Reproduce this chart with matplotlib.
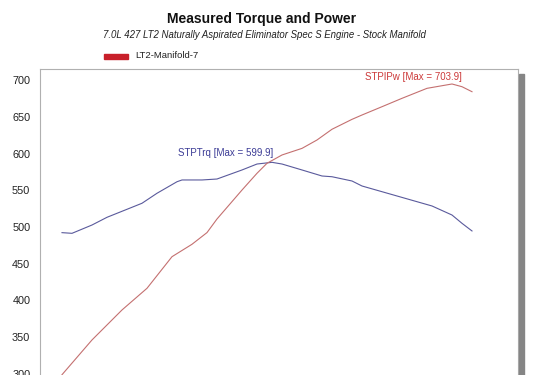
import matplotlib
matplotlib.use("Agg")
import matplotlib.pyplot as plt
from matplotlib.patches import Rectangle

# ---- data -----------------------------------------------------------------
trq_rpm = [3200, 3300, 3500, 3650, 3850, 4000, 4150, 4350, 4400, 4600, 4750,
           5000, 5150, 5300, 5400, 5600, 5800, 5900, 6100, 6200, 6550, 6900,
           7100, 7200, 7300]
trq_val = [492.3, 491.4, 502.7, 513.2, 524.1, 532.3, 545.9, 561.6, 564.0,
           564.0, 565.3, 577.6, 585.7, 588.0, 585.7, 577.6, 569.4, 568.4,
           562.6, 555.8, 542.2, 528.6, 516.3, 505.0, 494.6]

pwr_rpm = [3200, 3500, 3800, 4050, 4300, 4500, 4650, 4750, 5000, 5150, 5250,
           5400, 5600, 5750, 5900, 6100, 6200, 6400, 6600, 6850, 7100, 7200,
           7300]
pwr_val = [299.0, 346.3, 387.1, 416.6, 459.6, 476.5, 492.4, 510.9, 550.3,
           573.1, 586.7, 598.0, 607.0, 618.4, 633.0, 646.5, 652.4, 663.7,
           675.1, 688.7, 694.6, 690.9, 684.1]

yticks = [300, 350, 400, 450, 500, 550, 600, 650, 700]

TITLE = "Measured Torque and Power"
SUBTITLE = "7.0L 427 LT2 Naturally Aspirated Eliminator Spec S Engine - Stock Manifold"
LEGEND = "LT2-Manifold-7"
TRQ_LABEL = "STPTrq [Max = 599.9]"
PWR_LABEL = "STPIPw [Max = 703.9]"

BLUE = "#3c3c96"
RED = "#cc3a3a"
FONT = ["Liberation Sans", "DejaVu Sans"]
plt.rcParams["font.family"] = FONT

W, H = 540, 375
fig = plt.figure(figsize=(W / 100, H / 100), dpi=100)
fig.patch.set_facecolor("white")

# plot box runs off the bottom of the picture, like the cropped original
ax = fig.add_axes([40 / W, 0, (518 - 40) / W, (H - 69) / H])
ax.plot(trq_rpm, trq_val, color="#5a5a9c", lw=0.8)
ax.plot(pwr_rpm, pwr_val, color="#c47070", lw=0.8)
ax.set_xlim(2980, 7760)
ax.set_ylim(298.6, 715)
ax.set_yticks(yticks)
ax.set_xticks([])
ax.tick_params(axis="y", length=0, pad=7, labelsize=7.8, labelcolor="#222222")
for side in ("left", "top", "right"):
    ax.spines[side].set_color("#b0b0b0")
    ax.spines[side].set_linewidth(0.8)
ax.spines["bottom"].set_visible(False)

ax.text(4360, 600.3, TRQ_LABEL, color=BLUE, fontsize=7, va="center", ha="left")
ax.text(6230, 704.5, PWR_LABEL, color=RED, fontsize=7, va="center", ha="left")

# drop shadow on the right edge of the frame
fig.patches.append(Rectangle((518.5 / W, 0), 5 / W, (H - 74) / H,
                             transform=fig.transFigure, color="#858585",
                             zorder=0))

fig.text(262 / W, 1 - 19 / H, TITLE, ha="center", va="center",
         fontsize=10, fontweight="bold", color="#111111")
fig.text(264 / W, 1 - 35 / H, SUBTITLE, ha="center", va="center",
         fontsize=6.9, style="italic", color="#222222")

fig.patches.append(Rectangle((104 / W, 1 - 58.5 / H), 24 / W, 4.5 / H,
                             transform=fig.transFigure, color="#c8202a"))
fig.text(135 / W, 1 - 56 / H, LEGEND, ha="left", va="center",
         fontsize=6.8, color="#222222")

fig.savefig("out.png", dpi=100)
